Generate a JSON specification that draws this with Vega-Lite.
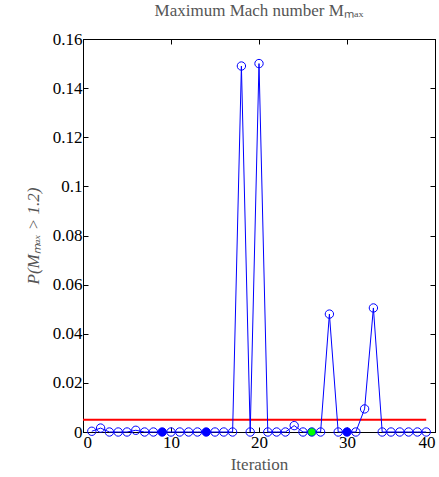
{
  "$schema": "https://vega.github.io/schema/vega-lite/v6.json",
  "width": 352,
  "height": 393,
  "autosize": {"type": "none"},
  "padding": {"left": 83, "top": 39, "right": 4, "bottom": 45},
  "config": {
    "view": {"stroke": "black", "strokeWidth": 1},
    "font": "Liberation Serif",
    "axis": {
      "domainColor": "black",
      "tickColor": "black",
      "tickSize": -5,
      "grid": false,
      "labelFont": "Liberation Serif",
      "labelFontSize": 17,
      "labelColor": "black",
      "titleFont": "Liberation Serif",
      "titleFontSize": 17,
      "titleFontWeight": "normal",
      "titleColor": "#555555"
    }
  },
  "title": {
    "text": "Maximum Mach number Mₘₐₓ",
    "font": "Liberation Serif",
    "fontSize": 17,
    "fontWeight": "normal",
    "color": "#555555",
    "offset": 10
  },
  "datasets": {
    "main": [
      {"iter": 1, "p": 0.0003, "marker": "o"},
      {"iter": 2, "p": 0.0016, "marker": "o"},
      {"iter": 3, "p": 0, "marker": "o"},
      {"iter": 4, "p": 0, "marker": "o"},
      {"iter": 5, "p": 0, "marker": "o"},
      {"iter": 6, "p": 0.0007, "marker": "o"},
      {"iter": 7, "p": 0, "marker": "o"},
      {"iter": 8, "p": 0, "marker": "o"},
      {"iter": 9, "p": 0, "marker": "b"},
      {"iter": 10, "p": 0, "marker": "o"},
      {"iter": 11, "p": 0, "marker": "o"},
      {"iter": 12, "p": 0, "marker": "o"},
      {"iter": 13, "p": 0, "marker": "o"},
      {"iter": 14, "p": 0, "marker": "b"},
      {"iter": 15, "p": 0, "marker": "o"},
      {"iter": 16, "p": 0, "marker": "o"},
      {"iter": 17, "p": 0, "marker": "o"},
      {"iter": 18, "p": 0.149, "marker": "o"},
      {"iter": 19, "p": 0, "marker": "o"},
      {"iter": 20, "p": 0.150, "marker": "o"},
      {"iter": 21, "p": 0, "marker": "o"},
      {"iter": 22, "p": 0, "marker": "o"},
      {"iter": 23, "p": 0, "marker": "o"},
      {"iter": 24, "p": 0.0026, "marker": "o"},
      {"iter": 25, "p": 0, "marker": "o"},
      {"iter": 26, "p": 0, "marker": "g"},
      {"iter": 27, "p": 0, "marker": "o"},
      {"iter": 28, "p": 0.048, "marker": "o"},
      {"iter": 29, "p": 0, "marker": "o"},
      {"iter": 30, "p": 0, "marker": "b"},
      {"iter": 31, "p": 0, "marker": "o"},
      {"iter": 32, "p": 0.0094, "marker": "o"},
      {"iter": 33, "p": 0.0505, "marker": "o"},
      {"iter": 34, "p": 0, "marker": "o"},
      {"iter": 35, "p": 0, "marker": "o"},
      {"iter": 36, "p": 0, "marker": "o"},
      {"iter": 37, "p": 0, "marker": "o"},
      {"iter": 38, "p": 0, "marker": "o"},
      {"iter": 39, "p": 0, "marker": "o"}
    ],
    "threshold": [{"x": 0, "x2": 39, "y": 0.005}]
  },
  "layer": [
    {
      "layer": [
        {
          "data": {"name": "threshold"},
          "mark": {"type": "rule", "color": "#ff0000", "strokeWidth": 2},
          "encoding": {
            "x": {"field": "x", "type": "quantitative", "scale": {"domain": [0, 40], "nice": false}, "axis": {"title": "Iteration", "values": [0, 10, 20, 30, 40], "labelFont": "Liberation Serif", "labelFontSize": 17, "labelPadding": 7, "titlePadding": 6, "titleFont": "Liberation Serif"}},
            "x2": {"field": "x2"},
            "y": {"field": "y", "type": "quantitative", "scale": {"domain": [0, 0.16], "nice": false}, "axis": {"title": "P(Mₘₐₓ > 1.2)", "titleFontStyle": "italic", "titleFont": "Liberation Serif", "values": [0, 0.02, 0.04, 0.06, 0.08, 0.1, 0.12, 0.14, 0.16], "format": ".2~f", "labelFont": "Liberation Serif", "labelFontSize": 17, "labelPadding": 6, "titlePadding": 10}}
          }
        },
        {
          "data": {"name": "main"},
          "mark": {"type": "line", "color": "#0000ff", "strokeWidth": 1},
          "encoding": {
            "x": {"field": "iter", "type": "quantitative"},
            "y": {"field": "p", "type": "quantitative"}
          }
        },
        {
          "data": {"name": "main"},
          "mark": {"type": "point", "filled": true, "stroke": "#0000ff", "strokeWidth": 1, "size": 70, "opacity": 1},
          "encoding": {
            "x": {"field": "iter", "type": "quantitative"},
            "y": {"field": "p", "type": "quantitative"},
            "fill": {"field": "marker", "type": "nominal", "scale": {"domain": ["o", "b", "g"], "range": ["rgba(255,255,255,0)", "#0000ff", "#00ff00"]}, "legend": null}
          }
        }
      ]
    },
    {
      "data": {"name": "threshold"},
      "mark": {"type": "rule", "opacity": 0},
      "encoding": {
        "x": {"field": "x", "type": "quantitative", "scale": {"domain": [0, 40], "nice": false}, "axis": {"orient": "top", "title": null, "labels": false, "values": [0, 10, 20, 30, 40]}},
        "y": {"field": "y", "type": "quantitative", "scale": {"domain": [0, 0.16], "nice": false}, "axis": {"orient": "right", "title": null, "labels": false, "values": [0, 0.02, 0.04, 0.06, 0.08, 0.1, 0.12, 0.14, 0.16]}}
      }
    }
  ],
  "resolve": {"scale": {"x": "independent", "y": "independent"}, "axis": {"x": "independent", "y": "independent"}}
}
